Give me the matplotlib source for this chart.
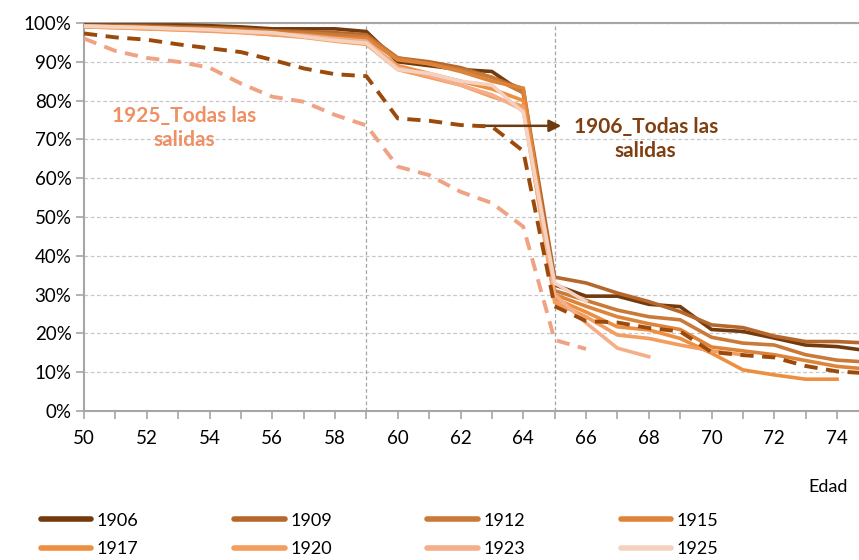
import numpy as np
import matplotlib.pyplot as plt
from matplotlib.lines import Line2D

plt.rcParams['font.family'] = ['Lato', 'DejaVu Sans']

# edad de inicio de cada serie
edad0 = 50

# porcentaje que sigue activo por edad (50, 51, ...), cohortes
c1906 = [99.5, 99.5, 99.5, 99.5, 99.3, 99.0, 98.5, 98.5, 98.5, 97.8,
         90.0, 89.0, 88.0, 87.5, 82.0, 32.5, 29.6, 29.6, 27.5, 26.9,
         21.0, 20.5, 18.8, 17.0, 16.6, 15.5]
c1909 = [99.3, 99.3, 99.2, 99.0, 98.8, 98.5, 98.0, 97.8, 97.5, 97.0,
         91.0, 90.0, 88.5, 86.0, 83.0, 34.5, 33.0, 30.4, 28.2, 25.6,
         22.2, 21.5, 19.3, 17.9, 17.9, 17.5]
c1912 = [99.2, 99.1, 99.0, 98.8, 98.5, 98.2, 97.8, 97.5, 97.0, 96.5,
         91.0, 89.5, 88.0, 86.0, 82.0, 31.0, 28.5, 26.0, 24.3, 23.5,
         19.0, 17.5, 17.0, 14.5, 13.1, 12.6]
c1915 = [99.2, 99.0, 98.8, 98.5, 98.3, 98.0, 97.5, 97.0, 96.3, 96.0,
         90.5, 89.5, 87.5, 85.0, 83.2, 30.0, 27.0, 24.3, 22.5, 21.0,
         16.5, 15.5, 14.5, 13.0, 11.5, 10.8]
c1917 = [99.0, 98.8, 98.5, 98.3, 98.0, 97.6, 97.0, 96.5, 95.5, 95.0,
         89.0, 87.0, 85.0, 83.0, 80.0, 29.0, 25.5, 21.7, 20.9, 18.7,
         14.9, 10.6, 9.3, 8.2, 8.2]
c1920 = [99.0, 98.8, 98.5, 98.2, 97.9, 97.5, 97.0, 96.3, 95.3, 94.5,
         88.0, 86.0, 84.0, 81.0, 78.5, 28.0, 24.3, 19.6, 18.7, 17.0,
         15.5, 14.5]
c1923 = [99.2, 99.0, 98.8, 98.5, 98.2, 97.8, 97.3, 96.8, 96.0, 95.3,
         88.5, 86.5, 84.0, 81.5, 77.5, 30.0, 22.7, 16.2, 14.0]
c1925 = [99.2, 99.0, 98.8, 98.5, 98.3, 97.8, 97.5, 96.5, 95.5, 94.8,
         88.0, 87.0, 85.0, 84.0, 77.0, 33.0, 28.2]

# todas las salidas
todas1906 = [97.3, 96.3, 95.7, 94.5, 93.5, 92.5, 90.5, 88.3, 86.8, 86.3,
             75.4, 74.8, 73.7, 73.3, 67.0, 27.0, 23.2, 22.8, 21.4, 20.5,
             15.2, 14.4, 13.8, 11.6, 10.2, 9.7]
todas1925 = [96.0, 92.8, 91.0, 90.0, 88.5, 84.4, 81.0, 79.7, 76.3, 73.6,
             63.0, 60.8, 56.5, 53.6, 47.5, 18.3, 16.0]

cohortes = ['1906', '1909', '1912', '1915', '1917', '1920', '1923', '1925']
series = [c1906, c1909, c1912, c1915, c1917, c1920, c1923, c1925]
colores = ['#733A0D', '#B5672C', '#C97A38', '#DD843A',
           '#EE8E40', '#F39D5E', '#F4AE8A', '#F5D2C0']

fig = plt.figure(figsize=(8.59, 5.6), dpi=100)
ax = fig.add_axes([84 / 859, 1 - 411 / 560, 1 - 84 / 859, 388 / 560])

for nombre, vals, col in zip(cohortes, series, colores):
    edades = np.arange(edad0, edad0 + len(vals))
    ax.plot(edades, np.array(vals) / 100, color=col, lw=2.6,
            solid_joinstyle='miter', label=nombre, zorder=3)

ax.plot(np.arange(edad0, edad0 + len(todas1906)), np.array(todas1906) / 100,
        color='#9C4A0C', lw=2.8, ls=(0, (3.4, 2.2)), zorder=4)
ax.plot(np.arange(edad0, edad0 + len(todas1925)), np.array(todas1925) / 100,
        color='#EFA284', lw=2.8, ls=(0, (3.4, 2.2)), zorder=4)

# lineas verticales en 59 y 65
for xv in [59, 65]:
    ax.axvline(xv, color='#A6A6A6', lw=0.9, ls=(0, (3, 2)), zorder=1)

ax.set_xlim(50, 74.7)
ax.set_ylim(0, 1)
ax.set_xticks(np.arange(50, 75, 2))
ax.set_xticks(np.arange(50, 75, 1), minor=True)
ax.set_yticks(np.arange(0, 1.01, 0.1))
ax.set_yticklabels([f'{int(round(v * 100))}%' for v in np.arange(0, 1.01, 0.1)])
ax.grid(axis='y', color='#C8C8C8', lw=0.9, ls=(0, (3, 2)))
ax.set_axisbelow(True)

for lado in ['left', 'bottom', 'top']:
    ax.spines[lado].set_color('#A6A6A6')
    ax.spines[lado].set_linewidth(1.5)
ax.spines['right'].set_visible(False)
ax.tick_params(axis='both', which='both', color='#A6A6A6', width=1.2,
               length=6, labelsize=13.5, labelcolor='#000000')
ax.tick_params(axis='x', pad=8)
ax.tick_params(axis='y', pad=3)

fig.text(848 / 859, 1 - 487 / 560, 'Edad', ha='right', va='center',
         fontsize=13)

# anotaciones
ax.text(53.2, 0.73, '1925_Todas las\nsalidas', color='#EE8F64',
        fontsize=15, fontweight='bold', ha='center', va='center',
        linespacing=1.25)
ax.text(67.9, 0.70, '1906_Todas las\nsalidas', color='#7F3F10',
        fontsize=15, fontweight='bold', ha='center', va='center',
        linespacing=1.25)
ax.annotate('', xy=(65.3, 0.735), xytext=(62.5, 0.735),
            arrowprops=dict(arrowstyle='-|>', color='#6E3A10', lw=1.8,
                            mutation_scale=18))

# leyenda en filas de 4
orden = [0, 4, 1, 5, 2, 6, 3, 7]
manejadores = [Line2D([], [], color=colores[i], lw=4,
                      solid_capstyle='round') for i in orden]
fig.legend(manejadores, [cohortes[i] for i in orden], ncol=4,
           loc='upper left', bbox_to_anchor=(28 / 859, 1 - 500 / 560),
           frameon=False, fontsize=13, handlelength=2.8,
           handletextpad=0.3, columnspacing=5.3, labelspacing=0.7,
           borderpad=0.2)

fig.savefig('out.png', dpi=100)
